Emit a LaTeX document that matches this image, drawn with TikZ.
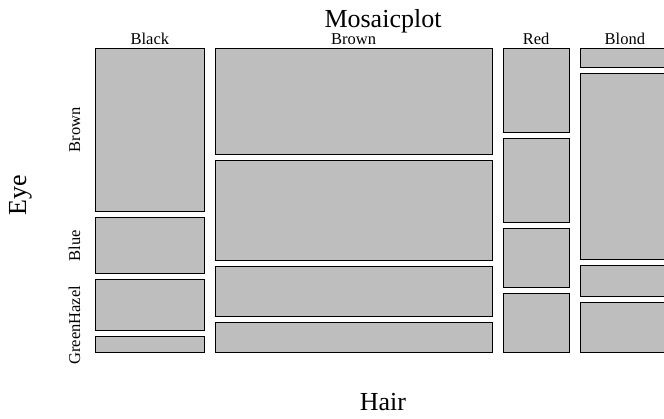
\documentclass[tikz,border=0pt]{standalone}
\usepackage{fontspec}
\setmainfont{Liberation Serif}
\definecolor{boxgray}{HTML}{BEBEBE}
\begin{document}
\begin{tikzpicture}[x=1pt,y=-1pt,
  cell/.style={fill=boxgray,draw=black,line width=0.8pt},
  small/.style={font=\fontsize{16.5}{18}\selectfont,inner sep=0pt,anchor=base},
  big/.style={font=\fontsize{26}{28}\selectfont,inner sep=0pt,anchor=base},
  ylab/.style={small,rotate=90}]
\useasboundingbox (0,0) rectangle (664,418);
\clip (0,0) rectangle (664,418);
% Black
\draw[cell] (95.7,48.3) rectangle (204,211.56);
\draw[cell] (95.7,217.56) rectangle (204,273.68);
\draw[cell] (95.7,279.68) rectangle (204,330.70);
\draw[cell] (95.7,336.70) rectangle (204,352);
% Brown
\draw[cell] (215.3,48.3) rectangle (491.9,154.18);
\draw[cell] (215.3,160.18) rectangle (491.9,260.07);
\draw[cell] (215.3,266.07) rectangle (491.9,316.01);
\draw[cell] (215.3,322.01) rectangle (491.9,352);
% Red
\draw[cell] (503.2,48.3) rectangle (568.95,132.33);
\draw[cell] (503.2,138.33) rectangle (568.95,222.36);
\draw[cell] (503.2,228.36) rectangle (568.95,287.18);
\draw[cell] (503.2,293.18) rectangle (568.95,352);
% Blond
\draw[cell] (580.5,48.3) rectangle (669.4,66.93);
\draw[cell] (580.5,72.93) rectangle (669.4,259.26);
\draw[cell] (580.5,265.26) rectangle (669.4,296.31);
\draw[cell] (580.5,302.31) rectangle (669.4,352);
% titles
\node[big] (title) at (383,27) {Mosaicplot};
\node[big] (hair) at (383,410.5) {Hair};
\node[big,rotate=90] (eye) at (26,195) {Eye};
% column labels
\node[small] (cblack) at (149.85,44) {Black};
\node[small] (cbrown) at (353.6,44) {Brown};
\node[small] (cred) at (536.1,44) {Red};
\node[small] (cblond) at (624.9,44) {Blond};
% row labels
\node[ylab] (rbrown) at (80,129.9) {Brown};
\node[ylab] (rblue) at (80,245.6) {Blue};
\node[ylab] (rhazel) at (80,305.2) {Hazel};
\node[ylab] (rgreen) at (80,344.35) {Green};
\end{tikzpicture}
\end{document}
